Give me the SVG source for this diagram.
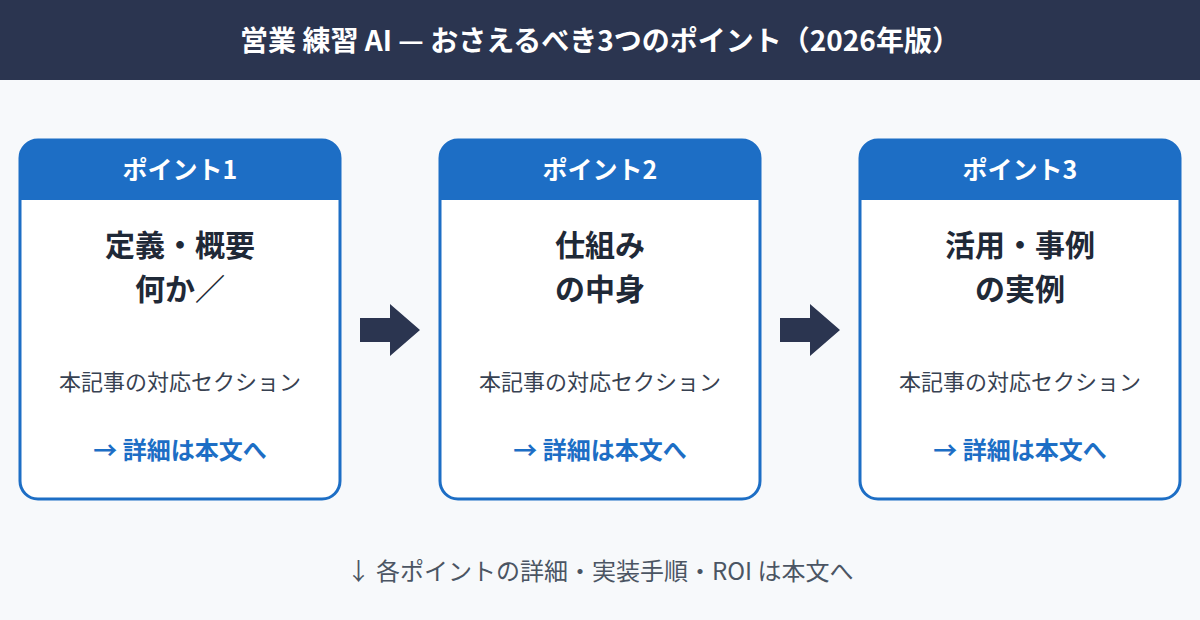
<svg xmlns="http://www.w3.org/2000/svg" width="1200" height="620" viewBox="0 0 1200 620">
<style>
text{font-family:"Noto Sans CJK JP","Noto Sans",sans-serif;text-anchor:middle}
.hd{fill:#fff;font-size:25px;font-weight:700}
.tt{fill:#1f2937;font-size:30px;font-weight:700}
.sub{fill:#374151;font-size:22px}
.lk{fill:#1d6ec5;font-size:24px;font-weight:700}
.card{fill:#fff;stroke:#1d6ec5;stroke-width:3}
.band{fill:#1d6ec5}
.arr{fill:#2b3550}
</style>
<rect width="1200" height="620" fill="#f7f9fb"/>
<rect width="1200" height="80" fill="#2b3550"/>
<text x="600" y="51" fill="#fff" font-size="28" font-weight="700">営業 練習 AI — おさえるべき3つのポイント（2026年版）</text>
<g id="node1">
<rect class="card" x="20" y="140" width="320" height="359" rx="18"/>
<path class="band" d="M20 158a18 18 0 0 1 18-18h284a18 18 0 0 1 18 18v42H20z"/>
<text class="hd" x="180" y="179">ポイント1</text>
<text class="tt" x="180" y="256">定義・概要</text>
<text class="tt" x="180" y="300">何か／</text>
<text class="sub" x="180" y="390">本記事の対応セクション</text>
<text class="lk" x="180" y="459">→ 詳細は本文へ</text>
</g>
<g id="node2">
<rect class="card" x="440" y="140" width="320" height="359" rx="18"/>
<path class="band" d="M440 158a18 18 0 0 1 18-18h284a18 18 0 0 1 18 18v42H440z"/>
<text class="hd" x="600" y="179">ポイント2</text>
<text class="tt" x="600" y="256">仕組み</text>
<text class="tt" x="600" y="300">の中身</text>
<text class="sub" x="600" y="390">本記事の対応セクション</text>
<text class="lk" x="600" y="459">→ 詳細は本文へ</text>
</g>
<g id="node3">
<rect class="card" x="860" y="140" width="320" height="359" rx="18"/>
<path class="band" d="M860 158a18 18 0 0 1 18-18h284a18 18 0 0 1 18 18v42H860z"/>
<text class="hd" x="1020" y="179">ポイント3</text>
<text class="tt" x="1020" y="256">活用・事例</text>
<text class="tt" x="1020" y="300">の実例</text>
<text class="sub" x="1020" y="390">本記事の対応セクション</text>
<text class="lk" x="1020" y="459">→ 詳細は本文へ</text>
</g>
<g id="connectors">
<path class="arr" d="M360 318h30v-14l30 26-30 26v-14h-30z"/>
<path class="arr" d="M780 318h30v-14l30 26-30 26v-14h-30z"/>
</g>
<text x="600" y="580" fill="#4b5563" font-size="24">↓ 各ポイントの詳細・実装手順・ROI は本文へ</text>
</svg>
